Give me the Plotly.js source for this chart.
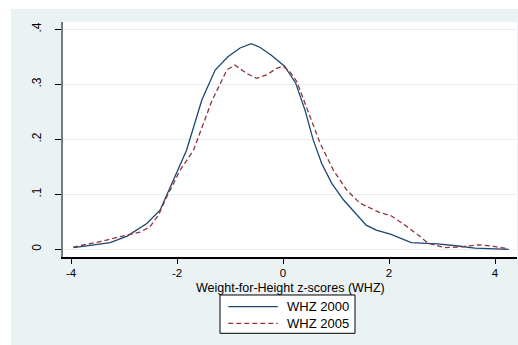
<!DOCTYPE html>
<html>
<head>
<meta charset="utf-8">
<script src="https://cdn.plot.ly/plotly-3.0.1.min.js"></script>
<style>html,body{margin:0;padding:0;background:#fff;}#chart{width:518px;height:345px;}</style>
</head>
<body>
<div id="chart"></div>
<script>
const whz2000X = [-3.95, -3.6, -3.26, -2.94, -2.57, -2.32, -2.23, -2.04, -1.82, -1.53, -1.28, -1.04, -0.81, -0.6, -0.43, -0.22, 0.03, 0.16, 0.24, 0.415, 0.57, 0.73, 0.92, 1.14, 1.45, 1.57, 1.76, 2.04, 2.42, 2.92, 3.3, 3.62, 4.26];
const whz2000Y = [0.003, 0.007, 0.012, 0.024, 0.047, 0.071, 0.09, 0.132, 0.18, 0.272, 0.326, 0.35, 0.366, 0.374, 0.367, 0.353, 0.333, 0.315, 0.302, 0.253, 0.199, 0.156, 0.12, 0.09, 0.056, 0.044, 0.035, 0.027, 0.012, 0.010, 0.006, 0.002, 0.0];
const whz2005X = [-3.96, -3.45, -3.08, -2.70, -2.51, -2.35, -2.19, -1.94, -1.69, -1.35, -1.06, -0.91, -0.69, -0.50, -0.31, -0.12, 0.0, 0.13, 0.26, 0.51, 0.70, 0.95, 1.20, 1.45, 1.64, 1.82, 2.04, 2.30, 2.55, 2.74, 3.05, 3.30, 3.68, 3.93, 4.25];
const whz2005Y = [0.004, 0.014, 0.023, 0.031, 0.041, 0.062, 0.096, 0.144, 0.18, 0.268, 0.326, 0.335, 0.32, 0.311, 0.317, 0.329, 0.333, 0.323, 0.305, 0.241, 0.193, 0.144, 0.108, 0.084, 0.075, 0.067, 0.061, 0.044, 0.026, 0.011, 0.003, 0.004, 0.008, 0.006, 0.001];
const xTicks = [-4, -2, 0, 2, 4];
const yTicks = [0, 0.1, 0.2, 0.3, 0.4];
const yTickText = ['0', '.1', '.2', '.3', '.4'];
const seriesNames = ['WHZ 2000', 'WHZ 2005'];
const xTitle = 'Weight-for-Height z-scores (WHZ)';

const seriesLines = [
  {color: '#1a476f', width: 1.3},
  {color: '#90353b', width: 1.3, dash: '5px,3px'}
];

const traces = [
  {x: whz2000X, y: whz2000Y, name: seriesNames[0], type: 'scatter', mode: 'lines', line: seriesLines[0]},
  {x: whz2005X, y: whz2005Y, name: seriesNames[1], type: 'scatter', mode: 'lines', line: seriesLines[1]}
];

// Legend drawn in paper coordinates (box, samples, labels)
const legendRows = [-0.2115, -0.2821];
const legendShapes = [
  {type: 'rect', xref: 'paper', yref: 'paper', x0: 0.3458, x1: 0.6432, y0: -0.3247, y1: -0.1617,
   fillcolor: '#ffffff', line: {color: '#000', width: 1}}
];
const annots = [
  {xref: 'paper', yref: 'paper', x: 0.5, y: -0.1319, xanchor: 'center', yanchor: 'middle',
   text: xTitle, showarrow: false, font: {size: 12.5, color: '#000'}}
];
seriesNames.forEach((name, i) => {
  legendShapes.push({type: 'line', xref: 'paper', yref: 'paper', x0: 0.3641, x1: 0.4729,
    y0: legendRows[i], y1: legendRows[i], line: seriesLines[i]});
  annots.push({xref: 'paper', yref: 'paper', x: 0.489, y: legendRows[i], xanchor: 'left', yanchor: 'middle',
    text: name, showarrow: false, font: {size: 13, color: '#000'}});
});

const layout = {
  width: 518, height: 345,
  margin: {l: 63, r: 1, t: 22, b: 88, pad: 0},
  paper_bgcolor: '#eaf2f3',
  plot_bgcolor: '#ffffff',
  font: {family: 'Liberation Sans, Arial, sans-serif', size: 12, color: '#000'},
  showlegend: false,
  xaxis: {
    range: [-4.151, 4.415], tickvals: xTicks, ticktext: xTicks.map(String),
    ticks: 'outside', ticklen: 5, tickcolor: '#000', tickwidth: 1,
    showline: true, linecolor: '#000', linewidth: 1.5,
    showgrid: false, zeroline: false,
    tickfont: {size: 11.5}
  },
  yaxis: {
    range: [-0.014, 0.4133], tickvals: yTicks, ticktext: yTickText,
    tickangle: -90, ticklabelstandoff: 9,
    ticks: 'outside', ticklen: 6, tickcolor: '#000', tickwidth: 1,
    showline: true, linecolor: '#7a7a7a', linewidth: 2,
    showgrid: true, gridcolor: '#e6eded', gridwidth: 1,
    zeroline: false,
    tickfont: {size: 12}
  },
  annotations: annots,
  shapes: [
    {type: 'rect', xref: 'paper', yref: 'paper', x0: -0.2, x1: -0.1145, y0: -0.5, y1: 1.2,
     fillcolor: '#ffffff', line: {width: 0}, layer: 'below'},
    {type: 'rect', xref: 'paper', yref: 'paper', x0: -0.2, x1: 1.1, y0: 1.0553, y1: 1.2,
     fillcolor: '#ffffff', line: {width: 0}, layer: 'below'}
  ].concat(legendShapes)
};

Plotly.newPlot('chart', traces, layout, {displayModeBar: false, staticPlot: true});
</script>
</body>
</html>
